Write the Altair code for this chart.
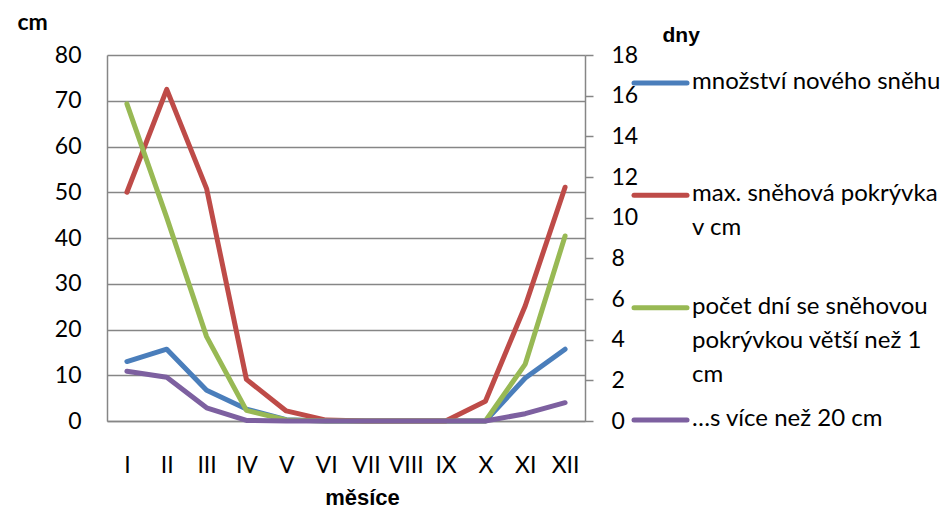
import altair as alt
import pandas as pd

months = ["I", "II", "III", "IV", "V", "VI", "VII", "VIII", "IX", "X", "XI", "XII"]

series_names = [
    "množství nového sněhu",
    "max. sněhová pokrývka v cm",
    "počet dní se sněhovou pokrývkou větší než 1 cm",
    "…s více než 20 cm",
]
legend_labels = [
    "množství nového sněhu",
    "max. sněhová pokrývka\nv cm",
    "počet dní se sněhovou\npokrývkou větší než 1\ncm",
    "…s více než 20 cm",
]
colors = ["#4A7EBB", "#BE4B48", "#98B954", "#7D60A0"]

# left axis (cm)
new_snow_cm = [13.0, 15.7, 6.7, 2.6, 0.3, 0, 0, 0, 0, 0, 9.4, 15.7]
max_cover_cm = [50.0, 72.5, 50.8, 9.1, 2.2, 0.2, 0, 0, 0, 4.3, 25.2, 51.1]
# right axis (days)
days_cover_1cm = [15.6, 10.0, 4.15, 0.52, 0.05, 0, 0, 0, 0, 0, 2.8, 9.1]
days_cover_20cm = [2.45, 2.15, 0.65, 0.03, 0, 0, 0, 0, 0, 0, 0.36, 0.9]

cm_ticks = list(range(0, 81, 10))
day_ticks = list(range(0, 19, 2))


def long_df(values_list, names):
    rows = []
    for vals, name in zip(values_list, names):
        for i, (m, v) in enumerate(zip(months, vals)):
            rows.append({"month": m, "mi": i, "value": v, "series": name})
    return pd.DataFrame(rows)


cm_df = long_df([new_snow_cm, max_cover_cm], series_names[:2])
day_df = long_df([days_cover_1cm, days_cover_20cm], series_names[2:])
legend_df = pd.DataFrame({"series": series_names, "label": legend_labels, "idx": [0, 1, 2, 3]})

GRAY = "#868686"
FONT = "Lato"
NARROW = "Liberation Sans Narrow, Liberation Sans"

color = alt.Color("series:N", scale=alt.Scale(domain=series_names, range=colors), legend=None)

x_enc = alt.X(
    "month:O",
    sort=months,
    scale=alt.Scale(domain=months),
    axis=alt.Axis(
        title="měsíce",
        titleFont=NARROW,
        titleFontWeight="bold",
        titleFontSize=22,
        titleX=255,
        titleY=83,
        titleAlign="center",
        titleBaseline="alphabetic",
        labelAngle=0,
        labelPadding=33,
        labelBaseline="top",
        ticks=False,
        tickSize=0,
        grid=False,
    ),
)

line_kw = dict(strokeWidth=5, strokeCap="round", strokeJoin="round")

cm_layer = alt.Chart(cm_df).mark_line(**line_kw).encode(
    x=x_enc,
    y=alt.Y(
        "value:Q",
        scale=alt.Scale(domain=[0, 80], nice=False),
        axis=alt.Axis(
            orient="left",
            values=cm_ticks,
            grid=True,
            ticks=False,
            tickSize=0,
            labelPadding=26,
            title="cm",
            titleAngle=0,
            titleX=-90,
            titleY=-26,
            titleAlign="left",
            titleBaseline="alphabetic",
            titleFont=FONT,
            titleFontWeight="bold",
            titleFontSize=23,
        ),
    ),
    color=color,
    order="mi:Q",
)

day_layer = alt.Chart(day_df).mark_line(**line_kw).encode(
    x=x_enc,
    y=alt.Y(
        "value:Q",
        scale=alt.Scale(domain=[0, 18], nice=False),
        axis=alt.Axis(
            orient="right",
            values=day_ticks,
            grid=False,
            ticks=True,
            tickSize=8,
            labelPadding=18,
            title="dny",
            titleAngle=0,
            titleX=77,
            titleY=-14,
            titleAlign="left",
            titleBaseline="alphabetic",
            titleFont=NARROW,
            titleFontWeight="bold",
            titleFontSize=21,
        ),
    ),
    color=color,
    order="mi:Q",
)

leg_y = alt.Y("idx:Q", scale=alt.Scale(domain=[0, 3], range=[28, 365], nice=False, zero=False), axis=None)

legend_rules = alt.Chart(legend_df).mark_rule(strokeWidth=5, strokeCap="round").encode(
    x=alt.value(527),
    x2=alt.value(580),
    y=leg_y,
    color=color,
)
legend_text = alt.Chart(legend_df).mark_text(
    align="left",
    baseline="top",
    dy=-13,
    lineBreak="\n",
    lineHeight=34,
    font=FONT,
    fontSize=24,
    color="black",
).encode(
    x=alt.value(585),
    y=leg_y,
    text="label:N",
)
legend_layer = alt.layer(legend_rules, legend_text)

chart = (
    alt.layer(cm_layer, day_layer, legend_layer)
    .resolve_scale(y="independent")
    .properties(
        width=478,
        height=366,
        autosize=alt.AutoSizeParams(type="none"),
        padding={"left": 99, "top": 47, "right": 359, "bottom": 90},
    )
    .configure_view(stroke=None)
    .configure_axis(
        domainColor=GRAY,
        domainWidth=1.5,
        gridColor=GRAY,
        gridWidth=1.4,
        tickColor=GRAY,
        tickWidth=1.5,
        labelColor="black",
        labelFont=FONT,
        labelFontSize=23,
        titleColor="black",
    )
)

chart.save("out.html", embed_options={"renderer": "svg", "actions": False})
